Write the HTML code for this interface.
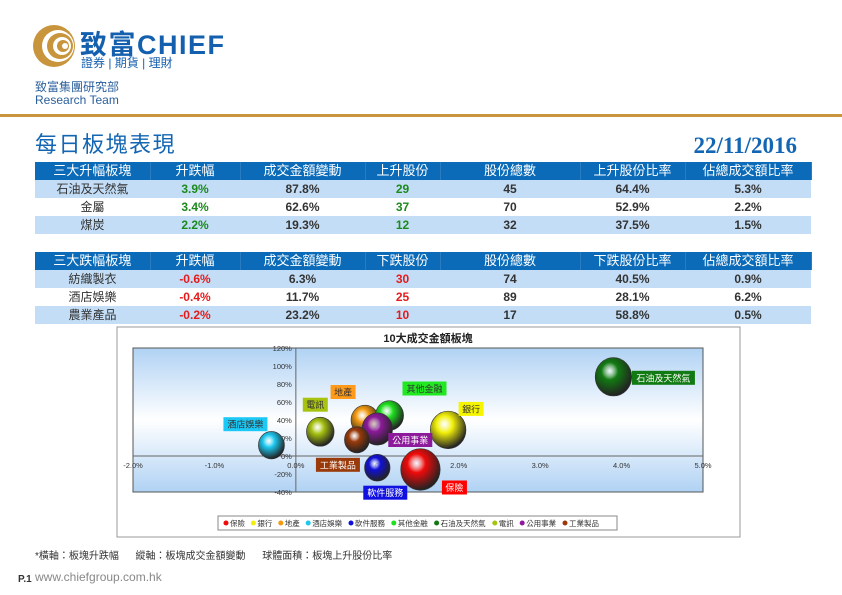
<!DOCTYPE html>
<html><head><meta charset="utf-8">
<style>
body{margin:0;width:842px;height:595px;position:relative;background:#fff;font-family:"Liberation Sans","Noto Sans CJK TC",sans-serif;overflow:hidden}
.abs{position:absolute}
table{border-collapse:collapse;position:absolute;left:35px;width:776px;table-layout:fixed;font-size:12px}
td{height:18px;padding:0;text-align:center;line-height:18px}
tr.h td{background:#0b6bb8;color:#fff;font-size:13px;border-right:1px solid #2a7cc0}
tr.a td{background:#c3ddf6}
tr.b td{background:#fff}
.g{color:#1b8a1b;font-weight:bold}.r{color:#e51b1b;font-weight:bold}.n{color:#333;font-weight:bold}
.nm{color:#333}
</style></head><body>
<div class="abs" style="left:33px;top:22px;width:210px;height:50px">
<svg width="50" height="50" style="position:absolute;left:0;top:0"><circle cx="21" cy="24" r="21" fill="#c8953c"/><circle cx="25" cy="24" r="16" fill="#fff"/><circle cx="27" cy="24" r="13" fill="#c8953c"/><circle cx="29" cy="24" r="9" fill="#fff"/><circle cx="30" cy="24" r="6" fill="#c8953c"/><circle cx="32" cy="24" r="3" fill="#fff"/></svg>
<div class="abs" style="left:47px;top:1px;font-size:27px;font-weight:bold;color:#1560ae;white-space:nowrap;letter-spacing:1.5px">致富CHIEF</div>
<div class="abs" style="left:48px;top:32px;font-size:12px;color:#1560ae;white-space:nowrap">證券 | 期貨 | 理財</div>
</div>
<div class="abs" style="left:35px;top:78px;font-size:12px;color:#2a5f9c">致富集團研究部</div>
<div class="abs" style="left:35px;top:93px;font-size:12px;color:#2a5f9c">Research Team</div>
<div class="abs" style="left:0;top:114px;width:842px;height:3px;background:#c8953c"></div>
<div class="abs" style="left:35px;top:132px;font-size:22px;line-height:26px;letter-spacing:1.5px;color:#1366b3">每日板塊表現</div>
<div class="abs" style="right:45px;top:133px;font-size:23px;font-weight:bold;color:#1366b3;font-family:'Liberation Serif',serif">22/11/2016</div>

<table style="top:162px">
<colgroup><col style="width:115px"><col style="width:90px"><col style="width:125px"><col style="width:75px"><col style="width:140px"><col style="width:105px"><col style="width:126px"></colgroup>
<tr class="h"><td>三大升幅板塊</td><td>升跌幅</td><td>成交金額變動</td><td>上升股份</td><td>股份總數</td><td>上升股份比率</td><td>佔總成交額比率</td></tr>
<tr class="a"><td class="nm">石油及天然氣</td><td class="g">3.9%</td><td class="n">87.8%</td><td class="g">29</td><td class="n">45</td><td class="n">64.4%</td><td class="n">5.3%</td></tr>
<tr class="b"><td class="nm">金屬</td><td class="g">3.4%</td><td class="n">62.6%</td><td class="g">37</td><td class="n">70</td><td class="n">52.9%</td><td class="n">2.2%</td></tr>
<tr class="a"><td class="nm">煤炭</td><td class="g">2.2%</td><td class="n">19.3%</td><td class="g">12</td><td class="n">32</td><td class="n">37.5%</td><td class="n">1.5%</td></tr>
</table>
<table style="top:252px">
<colgroup><col style="width:115px"><col style="width:90px"><col style="width:125px"><col style="width:75px"><col style="width:140px"><col style="width:105px"><col style="width:126px"></colgroup>
<tr class="h"><td>三大跌幅板塊</td><td>升跌幅</td><td>成交金額變動</td><td>下跌股份</td><td>股份總數</td><td>下跌股份比率</td><td>佔總成交額比率</td></tr>
<tr class="a"><td class="nm">紡織製衣</td><td class="r">-0.6%</td><td class="n">6.3%</td><td class="r">30</td><td class="n">74</td><td class="n">40.5%</td><td class="n">0.9%</td></tr>
<tr class="b"><td class="nm">酒店娛樂</td><td class="r">-0.4%</td><td class="n">11.7%</td><td class="r">25</td><td class="n">89</td><td class="n">28.1%</td><td class="n">6.2%</td></tr>
<tr class="a"><td class="nm">農業產品</td><td class="r">-0.2%</td><td class="n">23.2%</td><td class="r">10</td><td class="n">17</td><td class="n">58.8%</td><td class="n">0.5%</td></tr>
</table>

<svg class="abs" id="chart" style="left:0;top:0" width="842" height="595"></svg>

<div class="abs" style="left:35px;top:547px;font-size:10px;color:#333;white-space:pre">*橫軸：板塊升跌幅      縱軸：板塊成交金額變動      球體面積：板塊上升股份比率</div>
<div class="abs" style="left:18px;top:574px;font-size:10px;font-weight:bold;color:#333">P.1</div>
<div class="abs" style="left:35px;top:570px;font-size:12px;color:#888">www.chiefgroup.com.hk</div>

<script>
const sectors=["保險","銀行","地產","酒店娛樂","軟件服務","其他金融","石油及天然氣","電訊","公用事業","工業製品"];
const changePct=[1.53,1.87,0.85,-0.3,1.0,1.15,3.9,0.3,1.0,0.75];
const turnoverPct=[-15,29,40,12,-13,45,88,27,30,18];
const risingRatio=[55,45,28,24,23,28,47,27,33,22];
const colors=["#f00a0a","#f2f00a","#f39a10","#1cc8f0","#1010d8","#1ee01e","#127a12","#a8c210","#8c1a9a","#9a3a0a"];
const labelBg=["#f00","#f5f500","#ff9a1a","#1cc8f5","#1010e0","#22e822","#127a12","#a8c210","#8c1a9a","#9a3a0a"];
const labelFg=["#fff","#333","#333","#333","#fff","#333","#fff","#333","#fff","#fff"];
const labelOff=[[34,18],[23,-21],[-22,-28],[-26,-21],[8,25],[35,-27],[50,1],[-5,-27],[33,11],[-19,25]];
const xTicks=[-2,-1,0,1,2,3,4,5];
const yTicks=[120,100,80,60,40,20,0,-20,-40];
const svg=document.getElementById('chart');
const NS="http://www.w3.org/2000/svg";
const X0=133,X1=703,Y0=348,Y1=492;
const xs=v=>X0+(v+2)/7*(X1-X0);
const ys=v=>Y0+(120-v)/160*(Y1-Y0);
function mk(t,a,p){const e=document.createElementNS(NS,t);for(const k in a)e.setAttribute(k,a[k]);(p||svg).appendChild(e);return e;}
const defs=mk('defs',{});
const lg=mk('linearGradient',{id:'bg',x1:0,y1:0,x2:0,y2:1},defs);
mk('stop',{offset:'0','stop-color':'#b0d2f4'},lg);mk('stop',{offset:'0.5','stop-color':'#ffffff'},lg);mk('stop',{offset:'1','stop-color':'#b0d2f4'},lg);
colors.forEach((c,i)=>{const g=mk('radialGradient',{id:'bub'+i,cx:'0.4',cy:'0.35',r:'0.65'},defs);mk('stop',{offset:'0','stop-color':'#fff','stop-opacity':'0.7'},g);mk('stop',{offset:'0.35','stop-color':c},g);mk('stop',{offset:'1','stop-color':'#222'},g);});
let e=mk('rect',{x:117,y:327,width:623,height:210,fill:'#fff',stroke:'#999'});

e=mk('text',{x:428,y:342,'text-anchor':'middle','font-size':11,'font-weight':'bold',fill:'#222'});e.textContent='10大成交金額板塊';

e=mk('rect',{x:X0,y:Y0,width:X1-X0,height:Y1-Y0,fill:'url(#bg)',stroke:'#555'});

mk('line',{x1:X0,x2:X1,y1:ys(0),y2:ys(0),stroke:'#666'});
mk('line',{x1:xs(0),x2:xs(0),y1:Y0,y2:Y1,stroke:'#666'});
xTicks.forEach(t=>{const el=mk('text',{x:xs(t),y:ys(0)+12,'text-anchor':'middle','font-size':7.5,fill:'#333'});el.textContent=t.toFixed(1)+'%';
});
yTicks.forEach(t=>{const el=mk('text',{x:xs(0)-4,y:ys(t)+3,'text-anchor':'end','font-size':7.5,fill:'#333'});el.textContent=t+'%';
});
sectors.forEach((s,i)=>{const r=Math.sqrt(risingRatio[i])*2.8;
const c=mk('ellipse',{cx:xs(changePct[i]),cy:ys(turnoverPct[i]),rx:r*0.95,ry:r,fill:'url(#bub'+i+')',stroke:'#333','stroke-width':0.6});
});
sectors.forEach((s,i)=>{const cx=xs(changePct[i])+labelOff[i][0],cy=ys(turnoverPct[i])+labelOff[i][1];const w=s.length*9.5+6;
const g=mk('g',{});
mk('rect',{x:cx-w/2,y:cy-7,width:w,height:14,fill:labelBg[i]},g);
const t=mk('text',{x:cx,y:cy+3.5,'text-anchor':'middle','font-size':9,fill:labelFg[i]},g);t.textContent=s;});
const leg=mk('g',{});
mk('rect',{x:218,y:516,width:399,height:14,fill:'#fff',stroke:'#888'},leg);
let lx=224;sectors.forEach((s,i)=>{mk('circle',{cx:lx+2,cy:523,r:2.5,fill:colors[i]},leg);const t=mk('text',{x:lx+6,y:526,'font-size':7.5,fill:'#333'},leg);t.textContent=s;lx+=s.length*7.7+12;});
</script>
</body></html>
